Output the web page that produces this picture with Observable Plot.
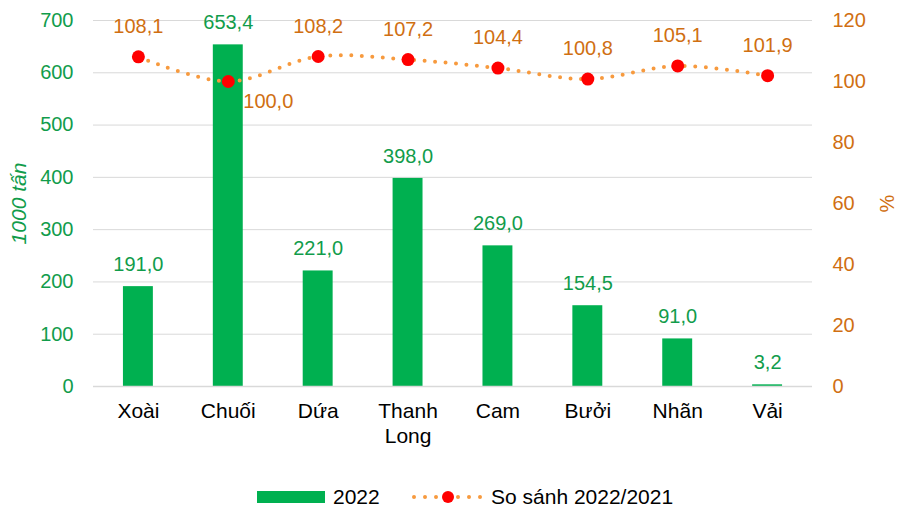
<!DOCTYPE html>
<html>
<head>
<meta charset="utf-8">
<script src="https://cdn.jsdelivr.net/npm/d3@7"></script>
<script src="https://cdn.jsdelivr.net/npm/@observablehq/plot@0.6"></script>
<style>
  body { margin: 0; background: #fff; font-family: "Liberation Sans", Arial, sans-serif; }
  #wrap { position: relative; width: 901px; height: 510px; }
  #legend { position: absolute; left: 0; top: 484px; width: 901px; height: 26px; }
  .item { position: absolute; top: 0; display: flex; align-items: center; height: 26px; font-size: 21px; color: #000; }
</style>
</head>
<body>
<div id="wrap">
  <div id="chart"></div>
  <div id="legend">
    <div class="item" style="left:257px">
      <svg width="68" height="14" style="margin-right:8px"><rect x="0" y="1" width="68" height="12" fill="#00B050"/></svg>
      <span>2022</span>
    </div>
    <div class="item" style="left:410px">
      <svg width="76" height="16" style="margin-right:5px">
        <line x1="4" y1="8" x2="72" y2="8" stroke="#F79A3E" stroke-width="4" stroke-linecap="round" stroke-dasharray="0 11"/>
        <circle cx="38" cy="8" r="6" fill="#FF0000"/>
      </svg>
      <span>So sánh 2022/2021</span>
    </div>
  </div>
</div>
<script>
const categories = ["Xoài", "Chuối", "Dứa", "Thanh Long", "Cam", "Bưởi", "Nhãn", "Vải"];
const output2022 = [191.0, 653.4, 221.0, 398.0, 269.0, 154.5, 91.0, 3.2];
const ratio2022vs2021 = [108.1, 100.0, 108.2, 107.2, 104.4, 100.8, 105.1, 101.9];
const leftTicks = [0, 100, 200, 300, 400, 500, 600, 700];
const rightTicks = [0, 20, 40, 60, 80, 100, 120];

const LEFT_MAX = 700, RIGHT_MAX = 120;
const toLeft = v => v * LEFT_MAX / RIGHT_MAX;
const fmt = v => v.toFixed(1).replace(".", ",");

const data = categories.map((c, i) => ({cat: c, val: output2022[i], pct: ratio2022vs2021[i], pctY: toLeft(ratio2022vs2021[i])}));

const GREEN = "#00B050", GREEN_TXT = "#119C4B", ORANGE_TXT = "#D06F12", ORANGE_LINE = "#F79A3E";
const FONT = "Liberation Sans, Arial, sans-serif";

const chart = Plot.plot({
  width: 901,
  height: 484,
  marginLeft: 93,
  marginRight: 89,
  marginTop: 20,
  marginBottom: 98,
  style: {fontFamily: FONT, fontSize: "20px", background: "#fff"},
  x: {domain: categories, paddingInner: 0.667, paddingOuter: 0.333, round: false, label: null},
  y: {domain: [0, LEFT_MAX], label: null},
  marks: [
    Plot.gridY(leftTicks.slice(1), {stroke: "#D9D9D9", strokeOpacity: 1, strokeWidth: 1}),
    Plot.barY(data, {x: "cat", y: "val", fill: GREEN}),
    Plot.ruleY([0], {stroke: "#D9D9D9", strokeWidth: 1.5}),
    Plot.axisY({anchor: "left", ticks: leftTicks, tickSize: 0, tickPadding: 20, fill: GREEN_TXT, fontSize: 20, label: null}),
    Plot.axisY({anchor: "right", ticks: rightTicks.map(toLeft), tickFormat: v => String(Math.round(v * RIGHT_MAX / LEFT_MAX)), tickSize: 0, tickPadding: 20, fill: ORANGE_TXT, fontSize: 20, label: null}),
    Plot.axisX({tickSize: 0, tickPadding: 13, fill: "#000", fontSize: 21, lineHeight: 1.22, tickFormat: d => d === "Thanh Long" ? "Thanh\nLong" : d, label: null}),
    Plot.text(data, {x: "cat", y: "val", text: d => fmt(d.val), dy: -22, fill: GREEN_TXT, fontSize: 20}),
    Plot.line(data, {x: "cat", y: "pctY", stroke: ORANGE_LINE, strokeWidth: 4, strokeLinecap: "round", strokeDasharray: "0 10.5", curve: "catmull-rom"}),
    Plot.dot(data, {x: "cat", y: "pctY", r: 6.5, fill: "#FF0000", stroke: "none"}),
    Plot.text(data.filter(d => d.cat !== "Chuối"), {x: "cat", y: "pctY", text: d => fmt(d.pct), dy: -30, fill: ORANGE_TXT, fontSize: 20}),
    Plot.text(data.filter(d => d.cat === "Chuối"), {x: "cat", y: "pctY", text: d => fmt(d.pct), dx: 40, dy: 20, fill: ORANGE_TXT, fontSize: 20}),
    Plot.text(["1000 tấn"], {frameAnchor: "left", dx: -74, rotate: -90, textAnchor: "middle", fill: GREEN_TXT, fontStyle: "italic", fontSize: 21}),
    Plot.text(["%"], {frameAnchor: "right", dx: 75, rotate: -90, textAnchor: "middle", fill: ORANGE_TXT, fontSize: 20})
  ]
});
document.getElementById("chart").appendChild(chart);
</script>
</body>
</html>
